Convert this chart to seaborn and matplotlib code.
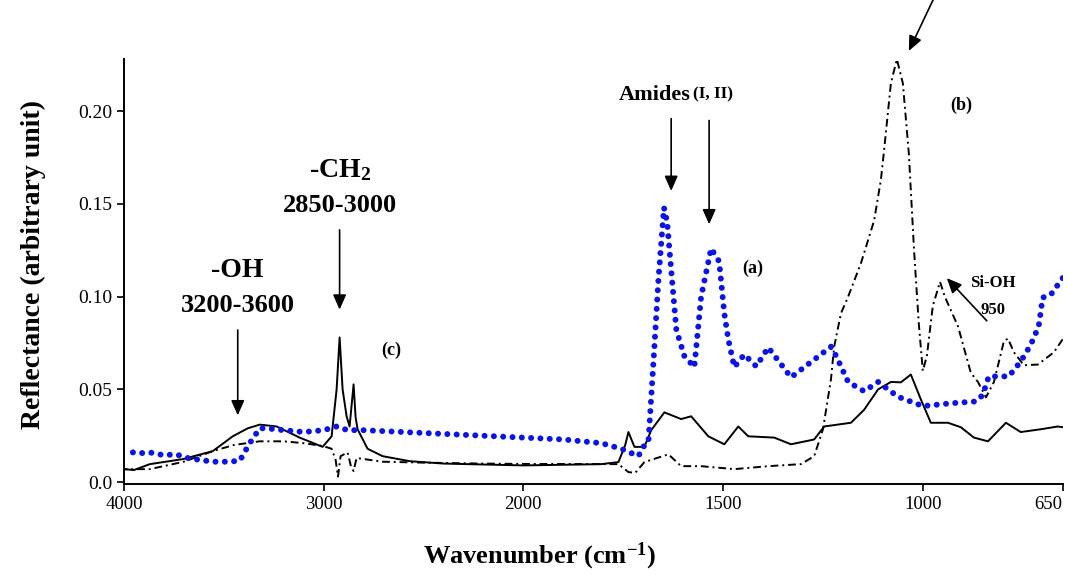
import numpy as np
import pandas as pd
import matplotlib
matplotlib.use("Agg")
import matplotlib.pyplot as plt
import seaborn as sns

# espectros (numero de onda en cm-1, reflectancia)
wn_a = [4000, 3930, 3870, 3800, 3740, 3680, 3620, 3555, 3480, 3420, 3370, 3320,
        3285, 3200, 3100, 3000, 2935, 2880, 2800, 2600, 2400, 2200, 2000, 1900,
        1805, 1755, 1712, 1700, 1687, 1672, 1662, 1648, 1640, 1630, 1617, 1597,
        1572, 1555, 1530, 1510, 1497, 1487, 1472, 1447, 1417, 1387, 1330, 1230,
        1217, 1187, 1147, 1112, 1062, 1000, 930, 867, 850, 835, 785, 755, 730,
        710, 700, 680, 650]
refl_a = [0.017, 0.0155, 0.016, 0.0145, 0.015, 0.013, 0.012, 0.011, 0.011, 0.0115,
          0.021, 0.029, 0.029, 0.028, 0.027, 0.028, 0.030, 0.028, 0.028, 0.027,
          0.026, 0.025, 0.024, 0.023, 0.021, 0.018, 0.014, 0.019, 0.0215, 0.073,
          0.109, 0.148, 0.140, 0.1145, 0.082, 0.068, 0.062, 0.100, 0.126, 0.119,
          0.091, 0.077, 0.062, 0.0688, 0.0624, 0.0726, 0.0565, 0.073, 0.068,
          0.054, 0.049, 0.054, 0.046, 0.041, 0.0425, 0.0435, 0.047, 0.057,
          0.057, 0.065, 0.074, 0.084, 0.0995, 0.101, 0.110]

wn_b = [4000, 3870, 3700, 3555, 3450, 3320, 3200, 3100, 3005, 2960, 2940, 2928,
        2915, 2880, 2862, 2850, 2835, 2705, 2500, 2200, 2000, 1805, 1762, 1737,
        1720, 1697, 1637, 1605, 1555, 1472, 1387, 1305, 1272, 1250, 1230, 1222,
        1205, 1187, 1155, 1122, 1105, 1097, 1080, 1065, 1050, 1035, 1022, 1010,
        1000, 990, 975, 957, 945, 912, 880, 862, 842, 822, 797, 787, 772, 747,
        712, 672, 650]
refl_b = [0.007, 0.007, 0.011, 0.0167, 0.020, 0.022, 0.022, 0.021, 0.0195, 0.018,
          0.012, 0.003, 0.014, 0.016, 0.008, 0.006, 0.013, 0.011, 0.0105, 0.010,
          0.0098, 0.0097, 0.0097, 0.0054, 0.005, 0.0108, 0.015, 0.0086, 0.0086,
          0.007, 0.0086, 0.0097, 0.014, 0.0285, 0.0554, 0.073, 0.091, 0.100,
          0.118, 0.141, 0.163, 0.179, 0.215, 0.228, 0.215, 0.177, 0.125, 0.085,
          0.060, 0.068, 0.095, 0.108, 0.100, 0.084, 0.059, 0.054, 0.0457, 0.054,
          0.076, 0.0774, 0.070, 0.063, 0.0634, 0.070, 0.077]

wn_c = [4000, 3950, 3870, 3705, 3555, 3455, 3380, 3320, 3235, 3120, 3005, 2960,
        2935, 2920, 2905, 2885, 2870, 2850, 2840, 2830, 2780, 2705, 2570, 2400,
        2200, 2000, 1805, 1762, 1745, 1737, 1722, 1697, 1680, 1647, 1605, 1580,
        1537, 1497, 1462, 1437, 1372, 1330, 1272, 1247, 1180, 1147, 1112, 1080,
        1055, 1030, 1005, 980, 937, 905, 872, 837, 792, 755, 705, 662, 650]
refl_c = [0.007, 0.0065, 0.0097, 0.0124, 0.0167, 0.0247, 0.029, 0.031, 0.030,
          0.024, 0.019, 0.0247, 0.050, 0.078, 0.050, 0.0355, 0.030, 0.0527,
          0.035, 0.0285, 0.018, 0.014, 0.0113, 0.010, 0.0095, 0.009, 0.0097,
          0.0108, 0.020, 0.027, 0.019, 0.019, 0.028, 0.0376, 0.034, 0.0355,
          0.0247, 0.0204, 0.030, 0.0247, 0.024, 0.0204, 0.023, 0.030, 0.032,
          0.039, 0.050, 0.054, 0.0538, 0.058, 0.0446, 0.032, 0.032, 0.0296,
          0.024, 0.022, 0.032, 0.027, 0.0285, 0.030, 0.0296]

xticks = [4000, 3000, 2000, 1500, 1000, 650]
yticks = [0.0, 0.05, 0.10, 0.15, 0.20]
ytick_labels = ["0.0", "0.05", "0.10", "0.15", "0.20"]

sns.set_style("ticks")
plt.rcParams["font.family"] = ["Liberation Serif", "DejaVu Serif"]
plt.rcParams["mathtext.fontset"] = "custom"
plt.rcParams["mathtext.rm"] = "Liberation Serif"
plt.rcParams["mathtext.bf"] = "Liberation Serif:bold"
plt.rcParams["mathtext.it"] = "Liberation Serif:italic"
for k in ["text.color", "axes.labelcolor", "xtick.color", "ytick.color"]:
    plt.rcParams[k] = "black"


# eje x con cambio de escala en 2000 cm-1 (como en el espectrometro)
def fwd(w):
    w = np.asarray(w, dtype=float)
    return np.where(w >= 2000, (w - 2000) / 1000.0, (w - 2000) / 500.0)


def inv(t):
    t = np.asarray(t, dtype=float)
    return np.where(t >= 0, 2000 + 1000.0 * t, 2000 + 500.0 * t)


fig = plt.figure(figsize=(10.68, 5.81), dpi=100)
ax = fig.add_axes([0.116, 0.167, 0.879, 0.731])

df_a = pd.DataFrame({"wn": wn_a, "r": refl_a})
df_b = pd.DataFrame({"wn": wn_b, "r": refl_b})
df_c = pd.DataFrame({"wn": wn_c, "r": refl_c})

sns.lineplot(data=df_c, x="wn", y="r", ax=ax, color="black", lw=1.4,
             errorbar=None)
sns.lineplot(data=df_b, x="wn", y="r", ax=ax, color="black", lw=1.4,
             linestyle=(0, (4, 2, 1, 2)), errorbar=None)
sns.lineplot(data=df_a, x="wn", y="r", ax=ax, color="#0a14e6", lw=4.3,
             linestyle=(0, (0.01, 1.55)), dash_capstyle="round", errorbar=None)

ax.set_xscale("function", functions=(fwd, inv))
ax.set_xlim(4000, 650)
ax.set_ylim(-0.001, 0.228)
ax.set_xticks(xticks)
ax.set_xticklabels([str(t) for t in xticks], fontsize=13.5)
ax.get_xticklabels()[-1].set_horizontalalignment("right")
ax.set_yticks(yticks)
ax.set_yticklabels(ytick_labels, fontsize=14)
ax.minorticks_off()
ax.tick_params(direction="out", length=5, width=1.2, colors="black")
ax.set_xlabel("")
ax.set_ylabel("")
for s in ["left", "bottom"]:
    ax.spines[s].set_linewidth(1.4)
    ax.spines[s].set_color("black")
sns.despine(ax=ax)

fig.text(0.031, 0.545, "Reflectance (arbitrary unit)", rotation=90,
         ha="center", va="center", fontsize=20, fontweight="bold")
fig.text(0.505, 0.042, r"Wavenumber (cm$^{\mathbf{-1}}$)", ha="center",
         va="center", fontsize=19, fontweight="bold")

arrow = dict(arrowstyle="-|>,head_length=0.9,head_width=0.4", color="black",
             lw=1.2, shrinkA=0, shrinkB=0)

# -OH
ax.text(3430, 0.114, "-OH", ha="center", va="center", fontsize=20,
        fontweight="bold")
ax.text(3430, 0.095, "3200-3600", ha="center", va="center", fontsize=19,
        fontweight="bold")
ax.annotate("", xy=(3430, 0.036), xytext=(3430, 0.082), arrowprops=arrow)

# -CH2
ax.text(2920, 0.168, r"-CH$_\mathbf{2}$", ha="center", va="center",
        fontsize=20, fontweight="bold")
ax.text(2920, 0.149, "2850-3000", ha="center", va="center", fontsize=19,
        fontweight="bold")
ax.annotate("", xy=(2920, 0.093), xytext=(2920, 0.136), arrowprops=arrow)
ax.text(2660, 0.071, "(c)", ha="center", va="center", fontsize=13,
        fontweight="bold")

# amidas
ax.text(1580, 0.209, "Amides", ha="right", va="center", fontsize=16,
        fontweight="bold")
ax.text(1575, 0.209, "(I, II)", ha="left", va="center", fontsize=12.5,
        fontweight="bold")
ax.annotate("", xy=(1630, 0.157), xytext=(1630, 0.196), arrowprops=arrow)
ax.annotate("", xy=(1535, 0.139), xytext=(1535, 0.195), arrowprops=arrow)
ax.text(1425, 0.115, "(a)", ha="center", va="center", fontsize=13,
        fontweight="bold")

# (b) y Si-OH
ax.text(905, 0.203, "(b)", ha="center", va="center", fontsize=13,
        fontweight="bold")
ax.annotate("", xy=(1035, 0.2325), xytext=(970, 0.262), arrowprops=arrow,
            annotation_clip=False)
ax.text(825, 0.1075, "Si-OH", ha="center", va="center", fontsize=12,
        fontweight="bold")
ax.text(825, 0.093, "950", ha="center", va="center", fontsize=12,
        fontweight="bold")
ax.annotate("", xy=(940, 0.110), xytext=(840, 0.087), arrowprops=arrow)

plt.savefig("out.png", dpi=100)
